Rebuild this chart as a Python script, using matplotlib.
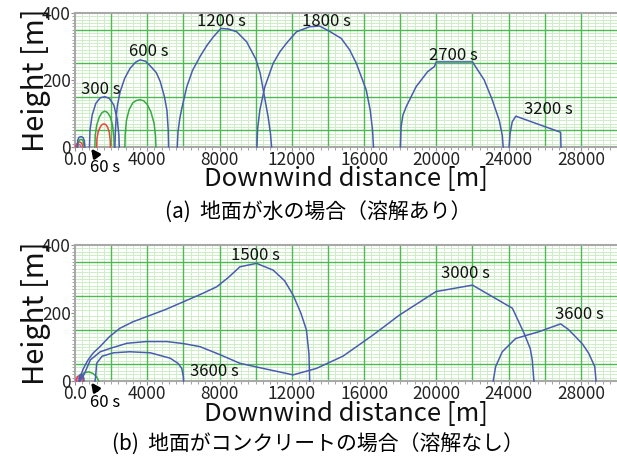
import numpy as np
import matplotlib.pyplot as plt

plt.rcParams['font.family'] = ['Noto Sans CJK JP', 'DejaVu Sans']

BLUE = '#4a5cb2'
GREEN = '#3aa845'
RED = '#e8463c'
PINK = '#d055c0'

# 目盛り
x_ticks = [0, 4000, 8000, 12000, 16000, 20000, 24000, 28000]
x_tick_labels = ['0.0', '4000', '8000', '12000', '16000', '20000', '24000', '28000']
y_ticks = [0, 200, 400]

# (a) 地面が水の場合
a60_blue_x = [130, 150, 220, 340, 450, 520, 550]
a60_blue_y = [0, 20, 29, 31, 28, 18, 0]
a60_green_x = [160, 180, 250, 340, 430, 480, 500]
a60_green_y = [0, 14, 21, 23, 20, 12, 0]
a60_red_x = [60, 80, 160, 260, 360, 420, 440]
a60_red_y = [0, 8, 13, 15, 12, 6, 0]
a60_pink_x = [20, 40, 120, 220, 300, 340]
a60_pink_y = [0, 5, 8, 8, 5, 0]

a300_blue_x = [800, 830, 950, 1150, 1400, 1650, 1900, 2150, 2330, 2430, 2450]
a300_blue_y = [0, 50, 95, 130, 147, 150, 145, 125, 85, 35, 0]
a300_green_x = [1100, 1120, 1200, 1350, 1500, 1650, 1800, 1950, 2080, 2150, 2170]
a300_green_y = [0, 35, 65, 90, 103, 107, 103, 90, 65, 30, 0]
a300_red_x = [1200, 1215, 1280, 1400, 1500, 1600, 1700, 1800, 1900, 1950, 1960]
a300_red_y = [0, 25, 45, 60, 67, 69, 67, 60, 43, 20, 0]

a600_blue_x = [2210, 2230, 2280, 2350, 2500, 2750, 3050, 3350, 3600, 3900, 4200, 4500, 4720, 4950, 5090, 5160, 5180]
a600_blue_y = [0, 40, 90, 125, 165, 205, 235, 253, 260, 256, 240, 222, 195, 150, 109, 50, 0]
a600_green_x = [2760, 2780, 2850, 3000, 3200, 3400, 3600, 3800, 4000, 4200, 4380, 4460, 4480]
a600_green_y = [0, 40, 80, 112, 132, 139, 141, 138, 127, 105, 70, 30, 0]

a1200_x = [5660, 5700, 5800, 5910, 6190, 6500, 6920, 7300, 7660, 8080, 8500, 8950, 9500, 10010, 10250, 10420, 10690, 10820, 10880]
a1200_y = [0, 45, 85, 115, 180, 228, 270, 303, 329, 354, 352, 344, 314, 262, 220, 170, 90, 40, 0]

a1800_x = [10070, 10110, 10230, 10510, 10970, 11350, 11710, 12260, 12990, 13540, 14100, 14740, 15200, 15570, 16120, 16340, 16470, 16520]
a1800_y = [0, 55, 110, 180, 250, 285, 310, 344, 359, 361, 345, 324, 290, 250, 170, 110, 50, 0]

a2700_x = [18010, 18050, 18150, 18330, 18880, 19520, 19890, 20000, 22000, 22650, 23100, 23480, 23650, 23700]
a2700_y = [0, 60, 95, 120, 180, 225, 240, 254, 254, 200, 140, 80, 35, 0]

a3200_x = [24030, 24080, 24200, 24400, 26880, 26900]
a3200_y = [0, 40, 75, 92, 44, 0]

# (b) 地面がコンクリートの場合
b60_blue_x = [220, 240, 300, 400, 480, 500]
b60_blue_y = [0, 14, 20, 18, 10, 0]
b60_red_x = [100, 110, 200, 330, 400, 410]
b60_red_y = [0, 12, 15, 14, 10, 0]
b60_pink_x = [40, 60, 150, 250, 300]
b60_pink_y = [0, 6, 9, 6, 0]
b60_green_x = [300, 360, 500, 760, 1000, 1200, 1310]
b60_green_y = [0, 14, 24, 27, 22, 12, 0]

b1500_x = [250, 300, 450, 700, 1000, 1380, 1900, 2480, 3200, 3950, 5000, 6000, 7000, 7840, 8500, 9130, 10050, 10970, 11600, 12070, 12500, 12810, 12950, 12990]
b1500_y = [0, 12, 35, 60, 82, 101, 130, 155, 174, 189, 210, 233, 256, 277, 305, 336, 346, 326, 295, 253, 200, 150, 80, 0]

b3000_x = [250, 490, 850, 1400, 1950, 2880, 3950, 5090, 6000, 6920, 8000, 9130, 10500, 12070, 13360, 14830, 16490, 17960, 19980, 22000, 24210, 24860, 25200, 25310, 25400]
b3000_y = [0, 18, 62, 86, 96, 111, 116, 116, 110, 101, 78, 52, 36, 18, 37, 73, 135, 194, 263, 282, 214, 140, 95, 62, 0]

b3600_low_x = [1100, 1130, 1200, 1500, 2140, 3030, 4170, 5270, 5700, 5910, 6000, 6010]
b3600_low_y = [0, 6, 52, 73, 83, 86, 83, 67, 52, 37, 12, 0]

b3600_x = [23150, 23280, 23650, 24390, 25680, 26880, 27300, 27710, 28100, 28440, 28770, 28840]
b3600_y = [0, 42, 86, 125, 145, 168, 152, 130, 108, 81, 42, 0]

fig = plt.figure(figsize=(6.17, 4.61), dpi=100)
ax_a = fig.add_axes([75 / 617, 1 - 147 / 461, 542 / 617, 134 / 461])
ax_b = fig.add_axes([75 / 617, 1 - 381 / 461, 542 / 617, 136 / 461])


def setup(ax):
    ax.set_xlim(0, 30000)
    ax.set_ylim(0, 400)
    # 補助目盛線
    ax.set_xticks(np.arange(0, 30001, 400), minor=True)
    ax.set_yticks(np.arange(0, 401, 10), minor=True)
    ax.grid(which='minor', color='#cdeec6', lw=0.7, zorder=0.5)
    for gx in np.arange(2000, 30000, 2000):
        ax.axvline(gx, color='#4cba50', lw=1.0, zorder=2)
    for gy in [50, 150, 250, 350]:
        ax.axhline(gy, color='#4cba50', lw=1.0, zorder=2)
    ax.set_xticks(x_ticks)
    ax.set_xticklabels(x_tick_labels)
    ax.set_yticks(y_ticks)
    ax.tick_params(which='both', colors='#909090', labelcolor='#222222', labelsize=12.5,
                   length=3, pad=0)
    ax.tick_params(which='minor', length=2)
    ax.spines['right'].set_visible(False)
    for s in ['left', 'bottom', 'top']:
        ax.spines[s].set_color('#a8a8a8')
        ax.spines[s].set_linewidth(1.5)
    ax.set_ylabel('Height [m]', fontsize=21, color='#111111')
    ax.yaxis.set_label_coords(-0.045, 0.5)
    ax.set_xlabel('Downwind distance [m]', fontsize=18.5, color='#111111')
    ax.xaxis.set_label_coords(0.5, -0.145)


def curve(ax, x, y, color):
    ax.plot(x, y, color=color, lw=1.1, zorder=3, clip_on=False)


setup(ax_a)
setup(ax_b)

curve(ax_a, a60_pink_x, a60_pink_y, PINK)
curve(ax_a, a60_red_x, a60_red_y, RED)
curve(ax_a, a60_green_x, a60_green_y, GREEN)
curve(ax_a, a60_blue_x, a60_blue_y, BLUE)
curve(ax_a, a300_blue_x, a300_blue_y, BLUE)
curve(ax_a, a300_green_x, a300_green_y, GREEN)
curve(ax_a, a300_red_x, a300_red_y, RED)
curve(ax_a, a600_blue_x, a600_blue_y, BLUE)
curve(ax_a, a600_green_x, a600_green_y, GREEN)
curve(ax_a, a1200_x, a1200_y, BLUE)
curve(ax_a, a1800_x, a1800_y, BLUE)
curve(ax_a, a2700_x, a2700_y, BLUE)
curve(ax_a, a3200_x, a3200_y, BLUE)

curve(ax_b, b60_green_x, b60_green_y, GREEN)
curve(ax_b, b60_pink_x, b60_pink_y, PINK)
curve(ax_b, b60_red_x, b60_red_y, RED)
curve(ax_b, b60_blue_x, b60_blue_y, BLUE)
curve(ax_b, b1500_x, b1500_y, BLUE)
curve(ax_b, b3000_x, b3000_y, BLUE)
curve(ax_b, b3600_low_x, b3600_low_y, BLUE)
curve(ax_b, b3600_x, b3600_y, BLUE)

lab = dict(fontsize=12, ha='center', va='center', color='#111111', zorder=5)
ax_a.text(1410, 173, '300 s', **lab)
ax_a.text(4080, 284, '600 s', **lab)
ax_a.text(8120, 374, '1200 s', **lab)
ax_a.text(13930, 376, '1800 s', **lab)
ax_a.text(20940, 272, '2700 s', **lab)
ax_a.text(26220, 113, '3200 s', **lab)

ax_b.text(9990, 368, '1500 s', **lab)
ax_b.text(7700, 29, '3600 s', **lab)
ax_b.text(21590, 315, '3000 s', **lab)
ax_b.text(27890, 197, '3600 s', **lab)

arrow = dict(arrowstyle='-|>', color='black', lw=2, mutation_scale=12, shrinkA=0)
ax_a.annotate('60 s', xy=(800, 2), xytext=(1650, -60), fontsize=12, ha='center',
              va='center', arrowprops=arrow, annotation_clip=False)
ax_b.annotate('60 s', xy=(800, 2), xytext=(1680, -62), fontsize=12, ha='center',
              va='center', arrowprops=arrow, annotation_clip=False)

fig.text(318 / 617, 1 - 213 / 461, '(a)  地面が水の場合（溶解あり）', fontsize=15,
         ha='center', va='center')
fig.text(318 / 617, 1 - 445 / 461, '(b)  地面がコンクリートの場合（溶解なし）', fontsize=15,
         ha='center', va='center')

fig.savefig('out.png', dpi=100)
